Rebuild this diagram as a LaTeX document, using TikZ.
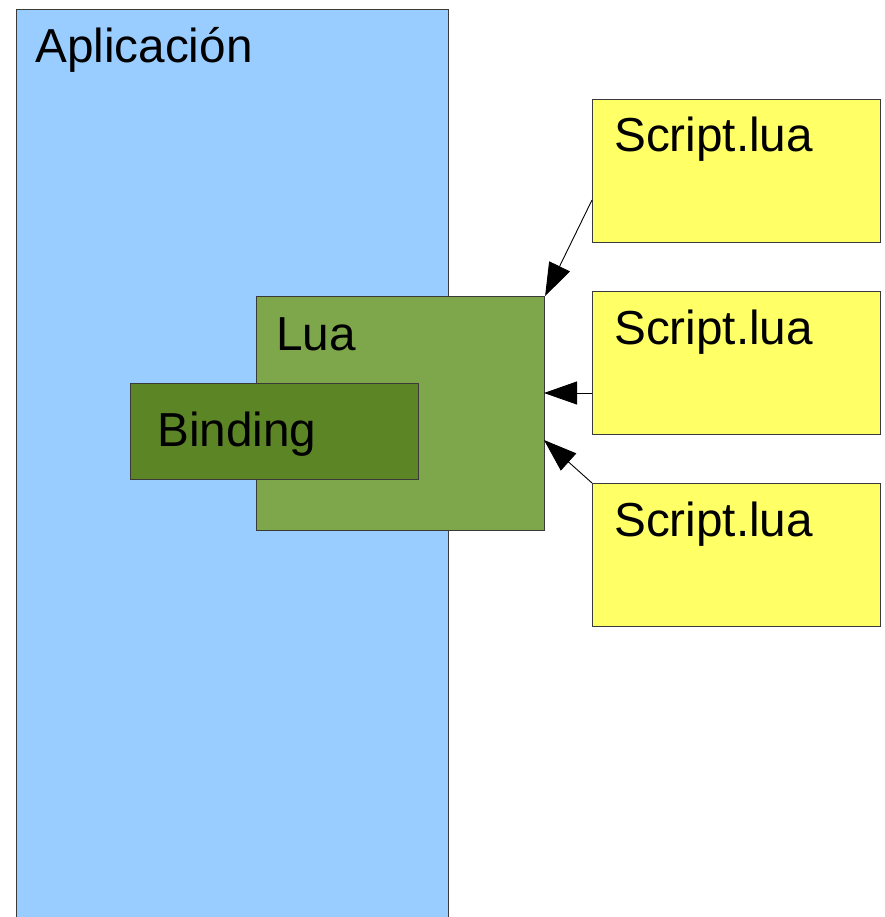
\documentclass[tikz,border=0pt]{standalone}
\usepackage{fontspec}
\setmainfont{Liberation Sans}
\usetikzlibrary{arrows.meta}
\definecolor{appblue}{HTML}{99CCFF}
\definecolor{luagreen}{HTML}{7EA64A}
\definecolor{bindgreen}{HTML}{5C8526}
\definecolor{scriptyellow}{HTML}{FFFF66}
\definecolor{edgegray}{HTML}{3A3A3A}
\tikzset{
  box/.style={draw=edgegray, line width=1.1pt, rectangle, inner sep=0pt, anchor=north west},
  lbl/.style={anchor=base west, inner sep=0pt, font=\fontsize{47.7}{52}\selectfont},
  feed/.style={draw=black, line width=0.9pt, -{Triangle[length=33pt,width=23pt]}}
}
\begin{document}
\begin{tikzpicture}[x=1pt, y=-1pt]
  \useasboundingbox (0,0) rectangle (884,917);
  \clip (0,0) rectangle (884,917);
  \fill[white] (0,0) rectangle (884,917);

  % host application
  \node[box, fill=appblue, minimum width=432pt, minimum height=930pt] (app) at (16,9) {};
  \node[lbl] (applbl) at (35,63) {Aplicación};

  % embedded interpreter
  \node[box, fill=luagreen, minimum width=288pt, minimum height=234pt] (lua) at (256,296) {};
  \node[lbl] (lualbl) at (276,350) {Lua};

  % binding layer
  \node[box, fill=bindgreen, minimum width=288pt, minimum height=96pt] (bind) at (130,383) {};
  \node[lbl] (bindlbl) at (157,446) {Binding};

  % scripts
  \node[box, fill=scriptyellow, minimum width=288pt, minimum height=143pt] (s1) at (592,99) {};
  \node[lbl] (s1lbl) at (614,152) {Script.lua};
  \node[box, fill=scriptyellow, minimum width=288pt, minimum height=143pt] (s2) at (592,291) {};
  \node[lbl] (s2lbl) at (614,344) {Script.lua};
  \node[box, fill=scriptyellow, minimum width=288pt, minimum height=143pt] (s3) at (592,483) {};
  \node[lbl] (s3lbl) at (614,536) {Script.lua};

  % arrow end points
  \coordinate (s1out) at (592,200);
  \coordinate (s2out) at (592,393);
  \coordinate (luain2) at (544,393);
  \coordinate (luain3) at (544,440);

  \draw[feed] (s1out) -- (lua.north east);
  \draw[feed] (s2out) -- (luain2);
  \draw[feed] (s3.north west) -- (luain3);
\end{tikzpicture}
\end{document}
